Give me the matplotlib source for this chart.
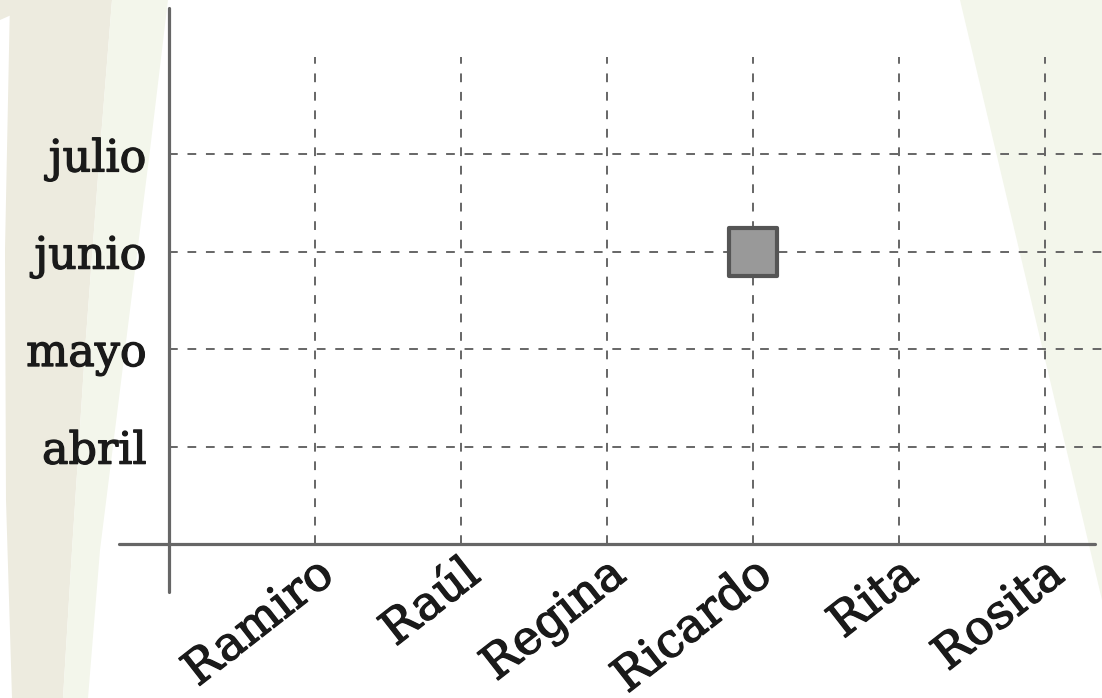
import matplotlib
matplotlib.use("Agg")
import matplotlib.pyplot as plt
import matplotlib.patheffects as pe
from matplotlib.markers import MarkerStyle

# ------------------------------------------------------------
# data
# ------------------------------------------------------------
names = ["Ramiro", "Raúl", "Regina", "Ricardo", "Rita", "Rosita"]
months = ["abril", "mayo", "junio", "julio"]
point_names = ["Ricardo"]
point_months = ["junio"]

x_pos = list(range(1, len(names) + 1))
y_pos = list(range(1, len(months) + 1))

W, H = 1102, 698
grey = "#666666"
ink = "#1a1a1a"
font = ["DejaVu Serif"]
heavier = [pe.withStroke(linewidth=0.9, foreground=ink)]

fig = plt.figure(figsize=(W / 100, H / 100), dpi=100)
fig.patch.set_facecolor("white")
ax = fig.add_axes([0, 0, 1, 1])
ax.set_facecolor("none")

# background shapes (pixel coords, top-left origin)
def px(pts):
    return [p[0] / W for p in pts], [1 - p[1] / H for p in pts]

beige = [(10, 0), (112, 0), (100, 150), (85, 350), (72, 550), (63, 698),
         (12, 698), (6, 500), (5, 250), (8, 100)]
green_l = [(112, 0), (168, 0), (150, 150), (125, 350), (100, 550), (88, 698),
           (63, 698), (72, 550), (85, 350), (100, 150)]
wedge = [(0, 0), (45, 0), (0, 20)]
green_r = [(960, 0), (1102, 0), (1102, 600)]
for pts, col in [(beige, "#EDEBDF"), (green_l, "#F3F6EB"),
                 (wedge, "#EDEBDF"), (green_r, "#F3F6EB")]:
    xs, ys = px(pts)
    ax.fill(xs, ys, color=col, transform=ax.transAxes, zorder=0, lw=0)

# scales: category index 0 sits on the axis cross
ax.set_xlim(-169 / 146, (W - 169) / 146)
ax.set_ylim(-(H - 544) / 97.4, 544 / 97.4)

# grid
ax.vlines(x_pos, 0, len(months) + 1, colors=grey, lw=1.4,
          linestyles=(0, (4.5, 5)), zorder=1)
ax.hlines(y_pos, 0, ax.get_xlim()[1], colors=grey, lw=1.4,
          linestyles=(0, (4.5, 5)), zorder=1)

# spines as axes through the origin
for s in ["top", "right"]:
    ax.spines[s].set_visible(False)
ax.spines["left"].set_position(("data", 0))
ax.spines["bottom"].set_position(("data", 0))
ax.spines["left"].set_bounds(-0.49, 5.5)
ax.spines["bottom"].set_bounds(-0.34, 6.34)
for s in ["left", "bottom"]:
    ax.spines[s].set_color(grey)
    ax.spines[s].set_linewidth(2.3)
    ax.spines[s].set_capstyle("round")
    ax.spines[s].set_zorder(2)

ax.set_xticks(x_pos)
ax.set_xticklabels(names, rotation=38, ha="right", va="top",
                   rotation_mode="anchor", fontsize=34, family=font,
                   color=ink, path_effects=heavier)
ax.set_yticks(y_pos)
ax.set_yticklabels(months, fontsize=32, family=font, color=ink,
                   path_effects=heavier)
ax.tick_params(axis="both", length=0)
ax.tick_params(axis="y", pad=16)
ax.tick_params(axis="x", pad=5)

# point
px_x = [x_pos[names.index(n)] for n in point_names]
px_y = [y_pos[months.index(m)] for m in point_months]
ax.plot(px_x, px_y, linestyle="none",
        marker=MarkerStyle("s", joinstyle="round"), markersize=34,
        markerfacecolor="#999999", markeredgecolor="#555555",
        markeredgewidth=3, zorder=3, clip_on=False)

fig.savefig("out.png", dpi=100)
